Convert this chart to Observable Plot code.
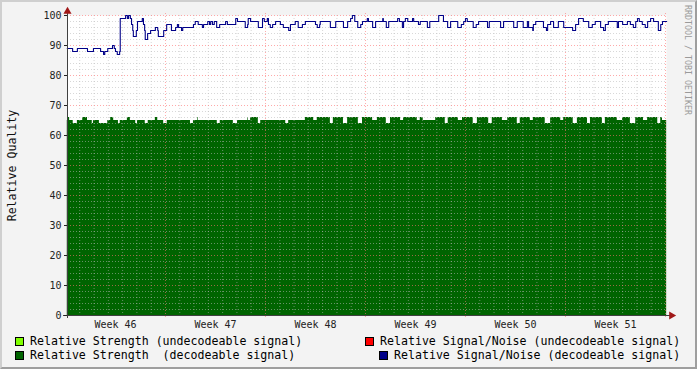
<!DOCTYPE html>
<html><head><meta charset="utf-8">
<script src="https://cdn.jsdelivr.net/npm/d3@7"></script>
<script src="https://cdn.jsdelivr.net/npm/@observablehq/plot@0.6"></script>
<style>
html,body{margin:0;padding:0;background:#f3f3f3;}
#wrap{position:relative;width:697px;height:369px;overflow:hidden;background:#f3f3f3;font-family:"DejaVu Sans Mono",monospace;}
#wrap svg{position:absolute;left:0;top:0;}
.edge{position:absolute;pointer-events:none;left:0;top:0;width:697px;height:369px;box-sizing:border-box;border-top:2px solid #cfcfcf;border-left:2px solid #cfcfcf;border-right:2px solid #9e9e9e;border-bottom:2px solid #9e9e9e;}
.lg{position:absolute;font-size:11.6px;line-height:14px;color:#000;white-space:pre;}
.sw{position:absolute;width:9px;height:9px;box-sizing:border-box;border:1px solid #000;}
.wm{position:absolute;left:683px;top:5px;writing-mode:vertical-rl;font-size:8.3px;color:#9a9a9a;white-space:pre;font-family:"DejaVu Sans Mono",monospace;}
</style></head>
<body>
<div id="wrap"></div>
<script>
// ---- data (x in hours since start of week 46) ----
const xDomain = [3.4, 1009.7];
const yTicks = [0, 10, 20, 30, 40, 50, 60, 70, 80, 90, 100];
const weekLabels = ["Week 46", "Week 47", "Week 48", "Week 49", "Week 50", "Week 51"];
const weekCenters = [84, 252, 420, 588, 756, 924];
const weekBounds = [168, 336, 504, 672, 840, 1008];
const dayLines = [24, 48, 72, 96, 120, 144, 192, 216, 240, 264, 288, 312, 360, 384, 408, 432, 456, 480,
  528, 552, 576, 600, 624, 648, 696, 720, 744, 768, 792, 816, 864, 888, 912, 936, 960, 984];
const minorY = [2, 4, 6, 8, 12, 14, 16, 18, 22, 24, 26, 28, 32, 34, 36, 38, 42, 44, 46, 48, 52, 54, 56, 58,
  62, 64, 66, 68, 72, 74, 76, 78, 82, 84, 86, 88, 92, 94, 96, 98];

// Relative Signal/Noise (decodeable signal)
const snrHours = [3,12,20,37,47,59,64,66,71,79,82,84,87,91,92,101,104,106,109,111,113,114,119,121,129,131,133,134,138,143,151,155,156,165,170,178,185,188,190,195,197,215,218,223,230,232,239,242,244,247,250,
  254,259,269,272,286,289,302,306,307,311,324,331,334,339,341,344,348,353,361,366,375,378,386,391,398,403,420,423,427,428,445,454,467,474,479,482,486,491,496,499,507,509,516,521,533,534,539,543,558,561,566,568,571,575,583,585,593,596,608,612,627,635,642,647,659,665,669,672,675,685,690,694,709,712,731,736,753,759,769,776,778,785,786,790,803,808,810,815,820,828,837,852,857,862,870,879,885,890,899,904,907,912,927,929,936,944,949,954,958,961,964,969,974,978,983,988,996,1000,1003,1010];
const snrValues = [89,88,89,88,89,88,87,88,89,90,89,88,87,88,99,100,99,100,99,97,95,93,95,98,99,97,95,92,94,95,96,95,93,95,97,95,96,97,96,95,96,97,98,97,96,97,98,97,98,97,98,
  96,97,98,97,99,98,96,97,99,98,96,99,98,99,97,96,97,98,97,96,95,97,98,96,97,98,97,96,97,98,96,98,96,98,99,100,98,96,97,98,99,98,96,98,99,98,96,98,99,98,96,98,99,98,99,98,97,98,96,98,100,98,96,98,96,97,98,99,98,96,97,98,96,98,96,98,96,98,96,98,96,95,97,98,96,95,97,98,96,98,96,95,97,99,98,96,97,98,96,95,97,98,96,98,97,98,97,96,98,99,98,97,96,98,99,98,95,97,98,98];

// Relative Strength (decodeable signal)
const strHours = [3,5,7,13,20,29,37,45,47,57,71,76,81,89,92,104,109,118,121,134,139,151,155,165,171,210,215,222,223,255,260,282,289,306,307,311,324,328,370,375,403,417,423,445,450,467,474,492,499,516,524,539,546,563,568,591,596,601,622,638,643,660,667,685,692,711,717,734,743,759,764,781,786,806,815,832,837,853,860,877,882,902,907,927,936,949,958,971,978,995,1000,1003,1010];
const strValues = [65,66,65,64,65,66,65,64,65,64,65,66,65,64,65,66,65,64,65,64,65,66,65,64,65,64,65,66,65,64,65,64,65,66,65,66,64,65,64,65,66,65,66,64,66,64,66,64,66,65,66,64,66,65,66,65,66,65,66,64,66,65,66,64,66,64,66,65,66,64,66,65,66,64,66,65,66,64,66,64,66,64,66,65,66,64,66,65,66,64,66,65,65];

const legendItems = [
  {label: "Relative Strength (undecodeable signal)", color: "#80ff00"},
  {label: "Relative Signal/Noise (undecodeable signal)", color: "#ff0000"},
  {label: "Relative Strength  (decodeable signal)", color: "#006400"},
  {label: "Relative Signal/Noise (decodeable signal)", color: "#000088"}
];

const snr = snrHours.map((h, i) => ({h, v: snrValues[i]}));
const str = strHours.map((h, i) => ({h, v: strValues[i]}));

const chart = Plot.plot({
  width: 697, height: 330,
  marginLeft: 67, marginRight: 31, marginTop: 15, marginBottom: 15,
  style: {background: "transparent", fontFamily: "'DejaVu Sans Mono', monospace", fontSize: "10px", color: "#222"},
  x: {domain: xDomain},
  y: {domain: [0, 100]},
  marks: [
    Plot.frame({fill: "white", stroke: "none"}),
    Plot.areaY(str, {x: "h", y: "v", curve: "step-after", fill: "#006400"}),
    Plot.ruleX(dayLines, {stroke: "#b8b8b8", strokeOpacity: 0.55, strokeDasharray: "1,2"}),
    Plot.ruleY(minorY, {stroke: "#b8b8b8", strokeOpacity: 0.55, strokeDasharray: "1,2"}),
    Plot.ruleX(weekBounds, {stroke: "#ff7070", strokeOpacity: 0.6, strokeDasharray: "1,2", insetBottom: -3, insetTop: -2}),
    Plot.ruleY(yTicks.filter(d => d > 0), {stroke: "#ff7070", strokeOpacity: 0.6, strokeDasharray: "1,2"}),
    Plot.line(snr, {x: "h", y: "v", curve: "step-after", stroke: "#000088", strokeWidth: 1.1}),
    Plot.ruleY([0], {stroke: "#404040", insetLeft: -4, insetRight: -4}),
    Plot.ruleX([xDomain[0]], {stroke: "#404040", insetTop: -4, insetBottom: -3}),
    Plot.dot([{x: xDomain[0], y: 100}], {x: "x", y: "y", symbol: "triangle", r: 3, fill: "#a01818", stroke: "none", dy: -4}),
    Plot.dot([{x: xDomain[1], y: 0}], {x: "x", y: "y", symbol: "triangle", rotate: 90, r: 3, fill: "#a01818", stroke: "none", dx: 5}),
    Plot.axisY({ticks: yTicks, tickSize: 3, tickPadding: 3, label: null, fontSize: 10}),
    Plot.axisX({ticks: weekCenters, tickSize: 0, tickPadding: 5, label: null, fontSize: 10,
      tickFormat: d => weekLabels[weekCenters.indexOf(d)]}),
    Plot.text(["Relative Quality"], {frameAnchor: "left", textAnchor: "middle", text: d => d, rotate: -90, dx: -55, fontSize: 11.6, fill: "#111"})
  ]
});

const wrap = document.getElementById("wrap");
wrap.appendChild(chart);

// legend below the plot
const pos = [
  {sx: 15, tx: 30, y: 334},
  {sx: 365, tx: 380, y: 334},
  {sx: 15, tx: 30, y: 348},
  {sx: 379, tx: 394, y: 348}
];
legendItems.forEach((it, i) => {
  const p = pos[i];
  const sw = document.createElement("div");
  sw.className = "sw";
  sw.style.left = p.sx + "px";
  sw.style.top = (p.y + 3) + "px";
  sw.style.background = it.color;
  wrap.appendChild(sw);
  const t = document.createElement("div");
  t.className = "lg";
  t.style.left = p.tx + "px";
  t.style.top = p.y + "px";
  t.textContent = it.label;
  wrap.appendChild(t);
});
const wm = document.createElement("div");
wm.className = "wm";
wm.textContent = "RRDTOOL / TOBI OETIKER";
wrap.appendChild(wm);
const edge = document.createElement("div");
edge.className = "edge";
wrap.appendChild(edge);
</script>
</body></html>
